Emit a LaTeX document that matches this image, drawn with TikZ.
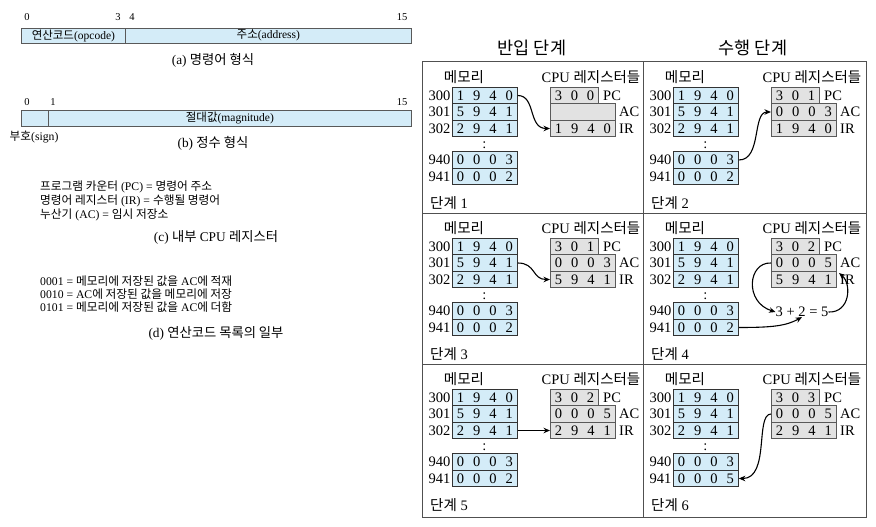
\documentclass[tikz,border=0pt]{standalone}
\usepackage{fontspec}
\setmainfont{Liberation Serif}
\newfontfamily\kr{Noto Sans CJK KR}
\usetikzlibrary{arrows.meta}
\definecolor{memblue}{HTML}{D4ECF8}
\definecolor{reggray}{HTML}{E2E2E2}
\definecolor{framec}{HTML}{505050}
\newcommand\dfour[4]{\makebox[16.25pt]{#1}\makebox[16.25pt]{#2}\makebox[16.25pt]{#3}\makebox[16.25pt]{#4}}
\newcommand\dthree[3]{\makebox[16pt]{#1}\makebox[16pt]{#2}\makebox[16pt]{#3}}
% #1 prefix, #2 xoff, #3 yoff, #4 PC, #5 AC, #6 IR, #7 941, #8 step
\newcommand\cpupanel[8]{%
\begin{scope}[shift={(#2,#3)}]
  \node[lbl] (#1memt) at (464,77) {\kr 메모리};
  \node[lbl] (#1cput) at (591,77) {CPU {\kr 레지스터들}};
  \node[lbl,anchor=east] (#1a300) at (450.5,95.5) {300};
  \node[lbl,anchor=east] (#1a301) at (450.5,112) {301};
  \node[lbl,anchor=east] (#1a302) at (450.5,128.5) {302};
  \node[lbl,anchor=east] (#1a940) at (450.5,160) {940};
  \node[lbl,anchor=east] (#1a941) at (450.5,176.5) {941};
  \node[mem] (#1m300) at (452,95.5) {\dfour1940};
  \node[mem] (#1m301) at (452,112) {\dfour5941};
  \node[mem] (#1m302) at (452,128.5) {\dfour2941};
  \node[lbl] (#1dots) at (484.5,145) {:};
  \node[mem] (#1m940) at (452,160) {\dfour0003};
  \node[mem] (#1m941) at (452,176.5) {#7};
  \node[reg,minimum width=48pt] (#1pc) at (550,95.5) {#4};
  \node[reg,minimum width=65pt] (#1ac) at (550,112) {#5};
  \node[reg,minimum width=65pt] (#1ir) at (550,128.5) {#6};
  \node[lbl,anchor=west] (#1pcl) at (603,95.5) {PC};
  \node[lbl,anchor=west] (#1acl) at (619,112) {AC};
  \node[lbl,anchor=west] (#1irl) at (619,128.5) {IR};
  \node[lbl,anchor=west] (#1step) at (430,203) {{\kr 단계} #8};
\end{scope}}
\begin{document}
\begin{tikzpicture}[x=1pt,y=-1pt,
  mem/.style={draw=black!80, fill=memblue, line width=0.8pt, minimum width=65pt, minimum height=16.5pt, inner sep=0pt, font=\fontsize{14.5}{16}\selectfont, anchor=west},
  reg/.style={draw=black!65, fill=reggray, line width=0.8pt, minimum height=16.5pt, inner sep=0pt, font=\fontsize{14.5}{16}\selectfont, anchor=west, align=left},
  lbl/.style={font=\fontsize{14.5}{16}\selectfont, inner sep=0pt},
  arr/.style={-{Stealth[length=6.5pt,width=5.5pt]}, line width=1.1pt},
  bar/.style={draw=black!65, fill=memblue, line width=0.7pt, inner sep=0pt, anchor=west, font=\fontsize{11.5}{13}\selectfont},
  bits/.style={font=\fontsize{10.5}{12}\selectfont, inner sep=0pt},
  small/.style={font=\fontsize{11.7}{13}\selectfont, inner sep=0pt},
  capt/.style={font=\fontsize{13.3}{15}\selectfont, inner sep=0pt},
  head/.style={font=\fontsize{17.5}{19}\selectfont, inner sep=0pt}
]
\useasboundingbox (0,0) rectangle (876,527);
% ---- left: (a)
\node[bits] (a0) at (27,17) {0};
\node[bits] (a3) at (118,17) {3};
\node[bits] (a4) at (132,17) {4};
\node[bits] (a15) at (402,17) {15};
\node[bar, minimum width=104pt, minimum height=15pt] (opc) at (21,35.5) {{\kr 연산코드}(opcode)};
\node[bar, minimum width=286pt, minimum height=15pt] (addr) at (125,35.5) {{\kr 주소}(address)};
\node[capt] (capa) at (213,60) {(a) {\kr 명령어 형식}};
% ---- (b)
\node[bits] (b0) at (27,102) {0};
\node[bits] (b1) at (53,102) {1};
\node[bits] (b15) at (402,102) {15};
\node[bar, minimum width=27pt, minimum height=16pt] (sgn) at (21,118) {};
\node[bar, minimum width=363pt, minimum height=16pt] (mag) at (48,118) {{\kr 절대값}(magnitude)};
\node[small] (sgnl) at (34,137) {{\kr 부호}(sign)};
\node[capt] (capb) at (213,143) {(b) {\kr 정수 형식}};
% ---- (c)
\node[small,anchor=west] (c1) at (40,187) {{\kr 프로그램 카운터} (PC) = {\kr 명령어 주소}};
\node[small,anchor=west] (c2) at (40,201) {{\kr 명령어 레지스터} (IR) = {\kr 수행될 명령어}};
\node[small,anchor=west] (c3) at (40,214.5) {{\kr 누산기} (AC) = {\kr 임시 저장소}};
\node[capt] (capc) at (216,237) {(c) {\kr 내부} CPU {\kr 레지스터}};
% ---- (d)
\node[small,anchor=west] (d1) at (40,281) {0001 = {\kr 메모리에 저장된 값을} AC{\kr 에 적재}};
\node[small,anchor=west] (d2) at (40,294) {0010 = AC{\kr 에 저장된 값을 메모리에 저장}};
\node[small,anchor=west] (d3) at (40,307) {0101 = {\kr 메모리에 저장된 값을} AC{\kr 에 더함}};
\node[capt] (capd) at (216,333) {(d) {\kr 연산코드 목록의 일부}};
% ---- right
\node[head] (h1) at (532,48) {\kr 반입 단계};
\node[head] (h2) at (753,48) {\kr 수행 단계};
\draw[framec, line width=1pt] (422,62) rectangle (866,517);
\draw[framec, line width=1pt] (643,62) -- (643,517);
\draw[framec, line width=1pt] (422,213.5) -- (866,213.5);
\draw[framec, line width=1pt] (422,364.5) -- (866,364.5);
\cpupanel{p1}{0}{0}{\dthree300}{}{\dfour1940}{\dfour0002}{1}
\cpupanel{p2}{221}{0}{\dthree301}{\dfour0003}{\dfour1940}{\dfour0002}{2}
\cpupanel{p3}{0}{151}{\dthree301}{\dfour0003}{\dfour5941}{\dfour0002}{3}
\cpupanel{p4}{221}{151}{\dthree302}{\dfour0005}{\dfour5941}{\dfour0002}{4}
\cpupanel{p5}{0}{302}{\dthree302}{\dfour0005}{\dfour2941}{\dfour0002}{5}
\cpupanel{p6}{221}{302}{\dthree303}{\dfour0005}{\dfour2941}{\dfour0005}{6}
% arrows
\draw[arr] (p1m300.east) .. controls (536,95.5) and (528,128.5) .. (p1ir.west);
\draw[arr] (p2m940.east) .. controls (762,160) and (752,112) .. (p2ac.west);
\draw[arr] (p3m301.east) .. controls (536,263) and (532,279.5) .. (p3ir.west);
\node[lbl] (sum) at (802,312) {3 + 2 = 5};
\draw[arr] (p4m941.east) .. controls (772,327.5) and (786,326) .. (sum.south);
\draw[arr] (p4ac.west) .. controls (748,262) and (744,302) .. (sum.west);
\coordinate (p4tip) at (839,273);
\draw[arr] (sum.east) .. controls (850,313) and (852,284) .. (p4tip);
\draw[arr] (p5m302.east) -- (p5ir.west);
\draw[arr] (p6ac.west) .. controls (755,414) and (770,478.5) .. (p6m941.east);
\end{tikzpicture}
\end{document}
